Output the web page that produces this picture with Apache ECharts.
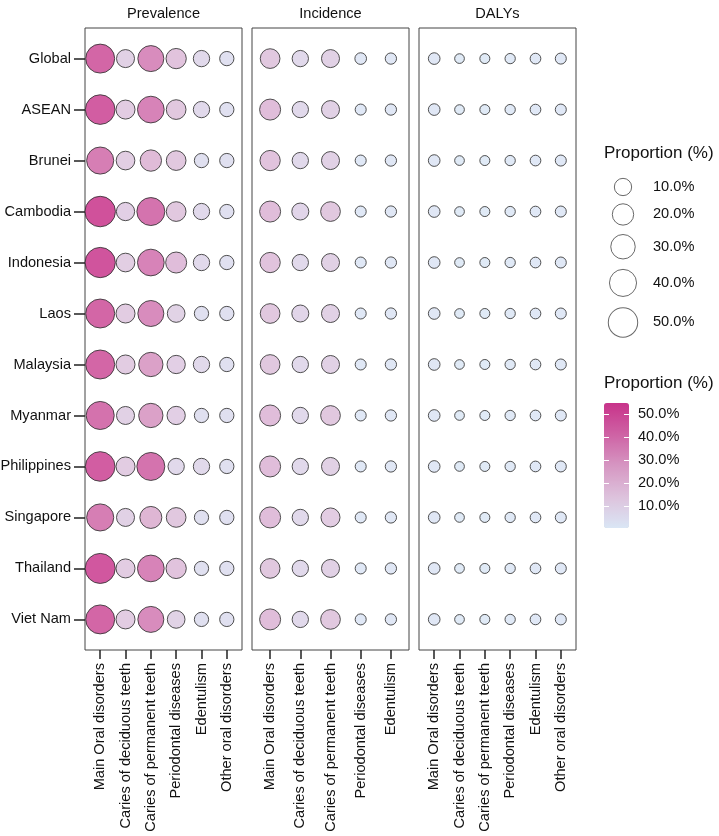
<!DOCTYPE html>
<html>
<head>
<meta charset="utf-8">
<script src="https://cdn.jsdelivr.net/npm/echarts@6/dist/echarts.min.js"></script>
<style>
  html, body { margin: 0; padding: 0; background: #fff; }
  #chart { width: 719px; height: 836px; }
</style>
</head>
<body>
<div id="chart"></div>
<script>
const regions = ["Global", "ASEAN", "Brunei", "Cambodia", "Indonesia", "Laos",
  "Malaysia", "Myanmar", "Philippines", "Singapore", "Thailand", "Viet Nam"];

const prevalenceCauses = ["Main Oral disorders", "Caries of deciduous teeth", "Caries of permanent teeth",
  "Periodontal diseases", "Edentulism", "Other oral disorders"];
const incidenceCauses = ["Main Oral disorders", "Caries of deciduous teeth", "Caries of permanent teeth",
  "Periodontal diseases", "Edentulism"];
const dalyCauses = ["Main Oral disorders", "Caries of deciduous teeth", "Caries of permanent teeth",
  "Periodontal diseases", "Edentulism", "Other oral disorders"];

// proportion (%) per region, one column per cause
const prevalence = [
  [48, 11.5, 35.6, 17, 8.1, 4.8],
  [51, 13.8, 38.4, 15.5, 8.1, 4.8],
  [40, 13, 20, 15.5, 4.8, 4.8],
  [55, 12.1, 43.7, 15.5, 8.1, 4.8],
  [54, 13, 38.4, 19, 8.1, 4.8],
  [48, 13.8, 35.6, 10.8, 4.8, 4.8],
  [48, 13.8, 29.4, 12.1, 8.1, 4.8],
  [44, 11.5, 29.4, 12.1, 4.8, 4.8],
  [51, 13.8, 43.7, 8.1, 8.1, 4.8],
  [40, 11.5, 21.9, 15.5, 4.8, 4.8],
  [53, 13.8, 38.4, 17, 4.8, 4.8],
  [48, 13.8, 35.6, 10.8, 4.8, 4.8]
];
const incidence = [
  [15.5, 8.1, 11.5, 1.8, 1.5],
  [19, 8.1, 11.5, 1.3, 1.5],
  [17, 8.1, 11.5, 1.3, 1.5],
  [19, 9.4, 15.5, 1.3, 1.5],
  [17, 8.1, 11.5, 1.3, 1.5],
  [15.5, 9.4, 11.5, 1.3, 1.5],
  [15.5, 8.1, 11.5, 1.3, 1.5],
  [19, 8.1, 15.5, 1.3, 1.5],
  [19, 8.1, 11.5, 1.3, 1.5],
  [19, 8.1, 13.8, 1.3, 1.5],
  [15.5, 8.1, 11.5, 1.3, 1.5],
  [19, 8.1, 15.5, 1.3, 1.5]
];
const dalys = [
  [1.8, 0.5, 0.65, 0.82, 1.07, 1.3],
  [1.8, 0.5, 0.65, 0.82, 1.07, 1.3],
  [1.8, 0.5, 0.65, 0.82, 1.07, 1.3],
  [1.8, 0.5, 0.65, 0.82, 1.07, 1.3],
  [1.8, 0.5, 0.65, 0.82, 1.07, 1.3],
  [1.8, 0.5, 0.65, 0.82, 1.07, 1.3],
  [1.8, 0.5, 0.65, 0.82, 1.07, 1.3],
  [1.8, 0.5, 0.65, 0.82, 1.07, 1.3],
  [1.8, 0.5, 0.65, 0.82, 1.07, 1.3],
  [1.8, 0.5, 0.65, 0.82, 1.07, 1.3],
  [1.8, 0.5, 0.65, 0.82, 1.07, 1.3],
  [1.8, 0.5, 0.65, 0.82, 1.07, 1.3]
];

const sizeBreaks = [10, 20, 30, 40, 50];
const colorBreaks = [10, 20, 30, 40, 50];

const FONT = "'Liberation Sans', Arial, sans-serif";
const bubble = v => 7.5 + 3.1 * Math.sqrt(v);

function toPoints(table) {
  const pts = [];
  table.forEach((row, i) => row.forEach((v, j) => pts.push([j, i, v])));
  return pts;
}

const panels = [
  { title: "Prevalence", causes: prevalenceCauses, values: prevalence, left: 85 },
  { title: "Incidence", causes: incidenceCauses, values: incidence, left: 252 },
  { title: "DALYs", causes: dalyCauses, values: dalys, left: 419 }
];
const panelWidth = 157;

const allValues = [].concat(...prevalence, ...incidence, ...dalys);
const vmin = Math.min(...allValues);
const vmax = Math.max(...allValues);

// vertical offsets of the size-legend keys, spaced by their circle sizes
const legendY = [0];
for (let i = 1; i < sizeBreaks.length; i++) {
  const gap = 1.35 * (bubble(sizeBreaks[i - 1]) + bubble(sizeBreaks[i]) + 2) / 2;
  legendY.push(legendY[i - 1] + gap);
}

const grids = panels.map(p => ({
  left: p.left, top: 28, width: panelWidth, height: 622, outerBoundsMode: 'none',
  show: true, borderColor: '#444', borderWidth: 1, backgroundColor: 'transparent'
}));
grids.push({ left: 613, top: 177, width: 20, height: 170, outerBoundsMode: 'none' });
grids.push({ left: 604, top: 403, width: 25, height: 125, outerBoundsMode: 'none' });

const xAxes = panels.map((p, k) => ({
  gridIndex: k, type: 'value', min: -0.6, max: p.causes.length - 0.4,
  axisLine: { show: false, onZero: false }, splitLine: { show: false },
  axisTick: { show: true, length: 9, customValues: p.causes.map((c, i) => i),
    lineStyle: { color: '#222', width: 1.5 } },
  axisLabel: { customValues: p.causes.map((c, i) => i), rotate: 90, margin: 13,
    fontSize: 14.6, color: '#111', fontFamily: FONT, formatter: v => p.causes[v] }
}));
xAxes.push({ gridIndex: 3, type: 'value', min: -1, max: 1, show: false });
xAxes.push({ gridIndex: 4, type: 'value', min: 0, max: 1, show: false });

const yAxes = panels.map((p, k) => ({
  gridIndex: k, type: 'value', inverse: true, min: -0.6, max: regions.length - 0.4,
  axisLine: { show: false, onZero: false }, splitLine: { show: false },
  axisTick: { show: k === 0, length: 11, customValues: regions.map((r, i) => i),
    lineStyle: { color: '#222', width: 1.5 } },
  axisLabel: { show: k === 0, customValues: regions.map((r, i) => i), margin: 14,
    fontSize: 14.6, color: '#111', fontFamily: FONT, formatter: v => regions[v] }
}));
yAxes.push({
  gridIndex: 3, type: 'value', inverse: true, min: -10, max: 160, position: 'right',
  axisLine: { show: false, onZero: false }, axisTick: { show: false }, splitLine: { show: false },
  axisLabel: { customValues: legendY, margin: 20, fontSize: 14.6, color: '#111', fontFamily: FONT,
    formatter: v => {
      const i = legendY.findIndex(y => Math.abs(y - v) < 0.01);
      return i < 0 ? '' : sizeBreaks[i].toFixed(1) + '%';
    } }
});
yAxes.push({
  gridIndex: 4, type: 'value', min: vmin, max: vmax, position: 'right', z: 10,
  axisLine: { show: false, onZero: false }, splitLine: { show: false },
  axisTick: { show: true, inside: true, length: 5, customValues: colorBreaks,
    lineStyle: { color: '#fff', width: 1 } },
  axisLabel: { customValues: colorBreaks, margin: 9, fontSize: 14.6, color: '#111', fontFamily: FONT,
    formatter: v => v.toFixed(1) + '%' }
});
yAxes.push({
  gridIndex: 4, type: 'value', min: vmin, max: vmax, position: 'left', z: 10,
  axisLine: { show: false, onZero: false }, splitLine: { show: false }, axisLabel: { show: false },
  axisTick: { show: true, inside: true, length: 5, customValues: colorBreaks,
    lineStyle: { color: '#fff', width: 1 } }
});

const series = panels.map((p, k) => ({
  type: 'scatter', xAxisIndex: k, yAxisIndex: k,
  data: toPoints(p.values),
  symbolSize: d => bubble(d[2]),
  itemStyle: { borderColor: '#333', borderWidth: 1, opacity: 0.85 }
}));
series.push({
  type: 'scatter', xAxisIndex: 3, yAxisIndex: 3,
  data: sizeBreaks.map((v, i) => [0, legendY[i], v]),
  symbolSize: d => bubble(d[2]),
  itemStyle: { color: '#fff', borderColor: '#444', borderWidth: 1 }
});

const titles = panels.map(p => ({
  text: p.title, left: p.left + panelWidth / 2, top: 6, textAlign: 'center', padding: 0,
  textStyle: { fontSize: 14.6, fontWeight: 'normal', color: '#111', fontFamily: FONT }
}));
titles.push({ text: 'Proportion (%)', left: 604, top: 145, padding: 0,
  textStyle: { fontSize: 17, fontWeight: 'normal', color: '#111', fontFamily: FONT } });
titles.push({ text: 'Proportion (%)', left: 604, top: 375, padding: 0,
  textStyle: { fontSize: 17, fontWeight: 'normal', color: '#111', fontFamily: FONT } });

const chart = echarts.init(document.getElementById('chart'));
chart.setOption({
  animation: false,
  backgroundColor: '#fff',
  title: titles,
  grid: grids,
  xAxis: xAxes,
  yAxis: yAxes,
  visualMap: {
    type: 'continuous', min: vmin, max: vmax, dimension: 2, seriesIndex: [0, 1, 2],
    left: 604, top: 403, itemWidth: 25, itemHeight: 125, padding: 0,
    calculable: false, hoverLink: false, text: null, showLabel: false,
    inRange: { color: ['#DAE6F5', '#DDC2DC', '#D696C2', '#CE62A4', '#C8338A'] }
  },
  series: series
});
</script>
</body>
</html>
